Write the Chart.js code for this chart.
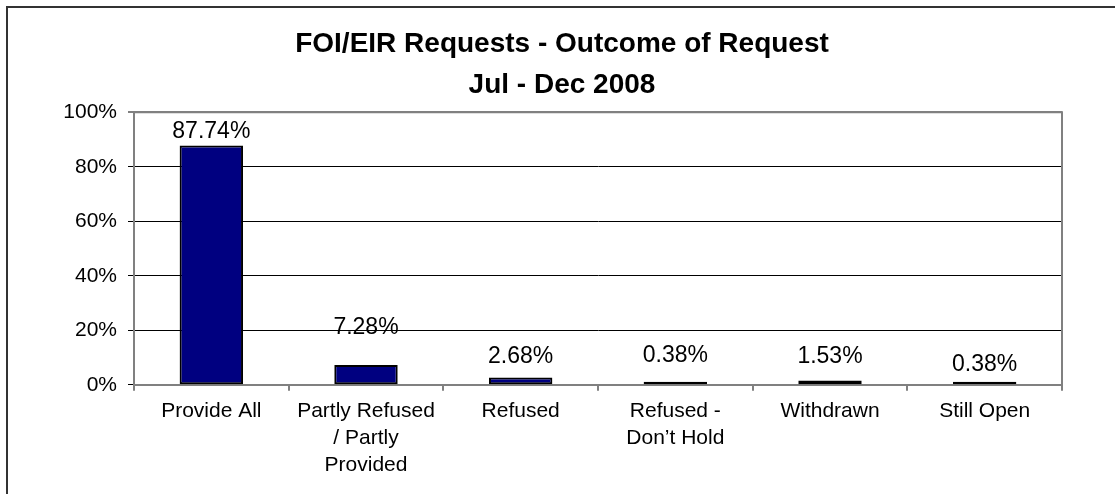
<!DOCTYPE html>
<html>
<head>
<meta charset="utf-8">
<script src="https://cdn.jsdelivr.net/npm/chart.js@4.4.1/dist/chart.umd.min.js"></script>
<style>
  html, body { margin: 0; padding: 0; background: #ffffff; }
  #wrap { width: 1115px; height: 494px; position: relative; }
</style>
</head>
<body>
<div id="wrap"><canvas id="c" width="1115" height="494"></canvas></div>
<script>
// ---- data ----
const titleLines = ["FOI/EIR Requests - Outcome of Request", "Jul - Dec 2008"];
const categories = [
  ["Provide All"],
  ["Partly Refused", "/ Partly", "Provided"],
  ["Refused"],
  ["Refused -", "Don\u2019t Hold"],
  ["Withdrawn"],
  ["Still Open"]
];
const percentValues = [87.74, 7.28, 2.68, 0.38, 1.53, 0.38];
const yTickValues = [0, 20, 40, 60, 80, 100];

// ---- style (label lift above bar top, in px) ----
const labelLift = [14, 37, 21, 26, 24, 17];
const FONT = "'Liberation Sans', Arial, Helvetica, sans-serif";

const framePlugin = {
  id: 'frame',
  beforeDraw(chart) {
    const ctx = chart.ctx;
    ctx.save();
    ctx.fillStyle = '#ffffff';
    ctx.fillRect(0, 0, chart.width, chart.height);
    ctx.strokeStyle = '#333333';
    ctx.lineWidth = 2;
    ctx.strokeRect(7, 7, chart.width + 20, chart.height + 20);
    ctx.restore();
  },
  afterDraw(chart) {
    const a = chart.chartArea;
    const ctx = chart.ctx;
    ctx.save();
    ctx.strokeStyle = '#808080';
    ctx.lineWidth = 2;
    ctx.beginPath();
    ctx.moveTo(a.left, a.top);
    ctx.lineTo(a.right, a.top);
    ctx.lineTo(a.right, a.bottom);
    ctx.stroke();
    ctx.restore();
  }
};

const valueLabels = {
  id: 'valueLabels',
  afterDatasetsDraw(chart, args, opts) {
    const ctx = chart.ctx;
    const meta = chart.getDatasetMeta(0);
    const data = chart.data.datasets[0].data;
    ctx.save();
    ctx.font = opts.font;
    ctx.fillStyle = '#000000';
    ctx.textAlign = 'center';
    ctx.textBaseline = 'middle';
    meta.data.forEach((bar, i) => {
      const lift = (opts.lift && opts.lift[i] != null) ? opts.lift[i] : 20;
      ctx.fillText(data[i].toFixed(2) + '%', bar.x, bar.y - lift);
    });
    ctx.restore();
  }
};

new Chart(document.getElementById('c'), {
  type: 'bar',
  data: {
    labels: categories,
    datasets: [{
      data: percentValues,
      backgroundColor: '#000080',
      borderColor: '#000000',
      borderWidth: 2,
      borderSkipped: false,
      minBarLength: 3,
      categoryPercentage: 1.0,
      barPercentage: 0.41
    }]
  },
  options: {
    responsive: false,
    animation: false,
    devicePixelRatio: 1,
    layout: { padding: { left: 62, right: 53, top: 0, bottom: 8 } },
    plugins: {
      legend: { display: false },
      tooltip: { enabled: false },
      title: {
        display: true,
        text: titleLines,
        color: '#000000',
        font: { family: FONT, size: 28, weight: 'bold', lineHeight: 1.45 },
        padding: { top: 24, bottom: 7 }
      },
      valueLabels: { font: "23px " + FONT, lift: labelLift }
    },
    scales: {
      x: {
        grid: {
          display: true,
          drawOnChartArea: false,
          drawTicks: true,
          tickLength: 6,
          color: '#808080',
          lineWidth: 2,
          offset: true
        },
        border: { display: true, color: '#808080', width: 2 },
        ticks: {
          color: '#000000',
          padding: 7,
          maxRotation: 0,
          autoSkip: false,
          font: { family: FONT, size: 21, lineHeight: 1.29 }
        }
      },
      y: {
        min: 0,
        max: 100,
        afterFit(scale) { scale.width = 72; },
        afterBuildTicks(scale) { scale.ticks = yTickValues.map(v => ({ value: v })); },
        grid: {
          display: true,
          drawTicks: true,
          tickLength: 6,
          color: (ctx) => (ctx.tick && ctx.tick.value === 100) ? '#808080' : '#000000',
          lineWidth: (ctx) => (ctx.tick && ctx.tick.value === 100) ? 2 : 1
        },
        border: { display: true, color: '#808080', width: 2 },
        ticks: {
          color: '#000000',
          padding: 11,
          font: { family: FONT, size: 21 },
          callback: (v) => v + '%'
        }
      }
    }
  },
  plugins: [framePlugin, valueLabels]
});
</script>
</body>
</html>
